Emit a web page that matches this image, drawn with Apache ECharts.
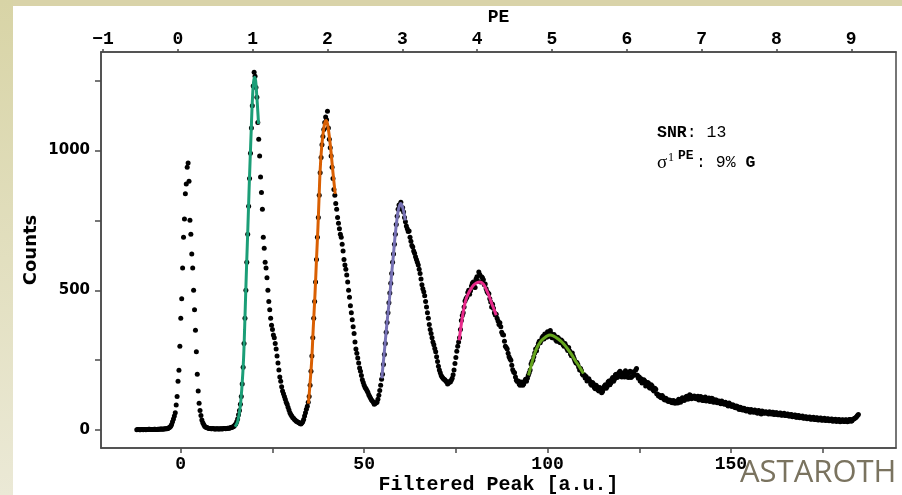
<!DOCTYPE html>
<html><head><meta charset="utf-8">
<script src="https://cdn.jsdelivr.net/npm/echarts@6/dist/echarts.min.js"></script>
<style>html,body{margin:0;padding:0;background:#fff}#c{width:902px;height:495px}</style>
</head><body><div id="c"></div>
<script>
// ---- data ----
// histogram counts on two interleaved grids: bins A at binStart + k*binWidth,
// bins B at binStart + binWidth/2 + k*binWidth
const binStart = -12;      // first bin centre [a.u.]
const binWidth = 0.5;      // bin spacing [a.u.]

const baselineLeftA = [1,2,1,2,2,1,2,3,2,2,3,2,3,4,3,4,5];
const peak0A = [6,10,20,40,62,120,214,400,580,755,880,955,750,630,500,357,200,96,52,26,14,9,7];
const baselineMidA = [6,5,5,4,5,4,5,5,6,6,7,8,10];
const peak1A = [14,22,40,70,120,225,400,600,800,990,1160,1280,1225,
  1100,980,850,690,600,545,460,400,360,330,290,240,190,155,130,110,92,72,56,45,38,32,28,24,25,38,62,85];
const peak2A = [120,210,330,460,610,760,920,1020,1075,1120,1140,1040,980,900,840,790,740,700,665,610,
  575,530,475,420,370,315,275,240,210,180,160,148,135,120,108,100,95,100,125,160];
const peak3A = [200,270,350,420,490,560,630,700,765,805,815,795,760,730,710,690,660,640,620,600,
  575,540,505,480,440,400,360,330,305,280,245,215,195,185,180,172,168,172,185,215,260,300];
const peak4A = [330,392,420,462,475,500,498,525,512,540,532,556,548,538,522,496,488,458,450,420,
  414,390,384,350,340,300,290,262,250,216,205,178,176,160,170,165,182,185];
const peak5A = [205,236,250,276,284,310,312,330,326,342,352,336,345,330,336,318,328,312,318,300,
  302,285,284,266,264,246,242,225,220,200,198];
const shoulderA = [192,178,176,160,166,148,155,140,146,138,158,150,172,162,182,175,198,188,206,196,
  204,190,206,188,210,192,202,214,196,190,184,170,176,160,168,150,158,140,146,128];
const tail1A = [125,116,118,108,110,102,106,98,104,100,97,108,104,113,110,121,114,124,115,122,
  112,121,109,117,106,118,108,115,104,112,101,108,102,97,104,94,100,90,97,88,
  91,82,86,77,82,73,78,69,75,67,74,66,72,63,70,62,68,61,66,60];
const tail2A = [66,58,64,57,62,55,61,54,60,52,58,50,56,49,54,46,52,45,50,43,
  48,42,47,40,46,38,44,37,43,36,42,35,41,34,40,33,39,33,38,32,37,31,36,32,38,33,40,44,52];

const baselineLeftB = [2,1,2,1,2,2,3,2,2,3,2,3,3,4,4,5,5];
const peak0B = [8,14,30,50,90,175,300,470,690,845,940,890,700,580,430,280,140,70,36,20,11,8,6];
const baselineMidB = [5,6,4,5,4,5,4,6,5,7,7,9,12];
const peak1B = [18,30,55,92,165,310,500,700,900,1080,1230,1265,1190,1040,905,790,650,580,500,430,
  375,340,310,265,215,175,140,120,100,82,62,50,42,35,30,26,22,30,50,75,100];
const peak2B = [160,265,400,530,690,840,975,1050,1100,1110,1080,1010,940,860,810,760,720,690,640,590,
  555,500,445,395,345,290,258,222,195,170,152,142,126,114,104,92,98,110,142,182];
const peak3B = [235,310,385,455,525,600,665,735,790,800,790,780,745,720,712,675,655,632,610,590,
  560,520,495,460,420,378,345,315,292,262,228,205,190,182,176,165,174,178,198,238,282,315];
const peak4B = [360,410,440,470,492,486,515,530,510,548,565,530,545,520,505,490,470,440,436,412,
  400,378,370,342,318,295,275,255,232,208,190,174,165,172,160,176,175,196];
const peak5B = [215,245,262,290,298,318,320,336,344,332,340,356,330,342,322,332,315,322,305,310,
  292,295,272,276,255,240,235,215,212,196,186];
const shoulderB = [176,184,165,170,152,160,143,152,134,148,162,156,176,168,188,182,200,192,210,190,
  200,212,194,205,188,208,196,220,185,176,168,180,158,170,152,162,144,150,130,122];
const tail1B = [118,124,110,114,104,108,100,106,96,104,110,100,116,106,119,110,126,112,120,114,
  118,108,120,106,116,104,112,102,114,100,108,98,104,94,100,92,96,86,92,84,
  88,80,84,74,80,72,76,68,74,64,70,64,68,60,68,58,66,60,64,58];
const tail2B = [60,64,56,62,55,60,53,58,52,57,50,55,48,53,46,51,44,49,42,47,
  41,46,39,44,38,43,36,42,35,40,34,40,33,39,32,38,31,37,30,36,31,37,30,38,32,39,42,48,56];

const fit1 = [[14.8,12],[15.5,30],[16.2,83],[16.7,160],[17.1,250],[17.4,360],[17.7,489],[18.0,610],[18.3,726],[18.6,850],[18.9,964],[19.2,1070],[19.4,1143],[19.6,1200],[19.8,1238],[20.1,1262],[20.4,1250],[20.7,1200],[21.0,1140],[21.2,1095]];
const fit2 = [[34.8,95],[35.2,160],[35.7,250],[36.1,360],[36.6,488],[37.0,610],[37.4,726],[37.7,830],[38.0,929],[38.4,1010],[38.9,1071],[39.3,1100],[39.6,1107],[40.0,1095],[40.5,1050],[41.0,990],[41.5,920],[42.1,845]];
const fit3 = [[54.8,185],[55.5,280],[56.2,381],[56.9,470],[57.5,560],[58.0,630],[58.4,690],[58.9,750],[59.3,786],[59.7,805],[60.0,810],[60.4,800],[60.8,780],[61.2,750]];
const fit4 = [[75.9,321],[76.5,380],[77.1,429],[77.7,465],[78.4,488],[79.1,505],[79.8,518],[80.7,527],[81.6,530],[82.5,522],[83.4,500],[84.1,478],[84.8,452],[85.4,432],[86.0,411]];
const fit5 = [[94.8,196],[95.5,230],[96.2,262],[96.8,285],[97.5,304],[98.2,318],[98.9,327],[99.8,336],[100.7,340],[101.4,338],[102.1,333],[103.0,325],[103.9,315],[104.8,302],[105.7,286],[106.6,269],[107.5,250],[108.7,226],[109.8,202]];
const fitColors = ['#1b9e77','#d95f02','#7570b3','#e7298a','#66a61e'];

const xTicks = [0,25,50,75,100,125,150,175];
const xLabels = [0,50,100,150];
const yTicks = [0,250,500,750,1000,1250];
const yLabels = [0,500,1000];
const peTicks = [-1,0,1,2,3,4,5,6,7,8,9];

// ---- build ----
const countsA = [].concat(baselineLeftA, peak0A, baselineMidA, peak1A, peak2A, peak3A, peak4A, peak5A, shoulderA, tail1A, tail2A);
const countsB = [].concat(baselineLeftB, peak0B, baselineMidB, peak1B, peak2B, peak3B, peak4B, peak5B, shoulderB, tail1B, tail2B);
const points = countsA.map((c, i) => [binStart + i * binWidth, c])
  .concat(countsB.map((c, i) => [binStart + binWidth / 2 + i * binWidth, c]));
const fits = [fit1, fit2, fit3, fit4, fit5];

const axisCol = '#4a4a4a';
const mono = 'Liberation Mono';
const chart = echarts.init(document.getElementById('c'), null, {renderer: 'canvas'});
chart.setOption({
  animation: false,
  backgroundColor: '#ffffff',
  grid: {left: 101, right: 6, top: 52, bottom: 47, show: true, borderColor: axisCol, borderWidth: 1.5,
         containLabel: false, outerBoundsMode: 'none'},
  xAxis: [
    {type: 'value', position: 'bottom', min: -21.75, max: 195,
     splitLine: {show: false},
     axisLine: {onZero: false, lineStyle: {color: axisCol, width: 1.5}},
     axisTick: {customValues: xTicks, length: 5, lineStyle: {color: axisCol, width: 1.5}},
     axisLabel: {customValues: xLabels, fontFamily: mono, fontWeight: 'bold', fontSize: 18, color: '#000', margin: 7},
     name: 'Filtered Peak [a.u.]', nameLocation: 'middle', nameGap: 27, nameMoveOverlap: false,
     nameTextStyle: {fontFamily: mono, fontWeight: 'bold', fontSize: 20, color: '#000'}},
    {type: 'value', position: 'top', min: -1.027, max: 9.598,
     splitLine: {show: false},
     axisLine: {onZero: false, lineStyle: {color: axisCol, width: 1.5}},
     axisTick: {customValues: peTicks, length: 3, lineStyle: {color: axisCol, width: 1.5}},
     axisLabel: {customValues: peTicks, fontFamily: mono, fontWeight: 'bold', fontSize: 18, color: '#000', margin: 4,
       formatter: v => (v < 0 ? '\u2212' + Math.abs(v) : String(v))},
     name: 'PE', nameLocation: 'middle', nameGap: 26, nameMoveOverlap: false,
     nameTextStyle: {fontFamily: mono, fontWeight: 'bold', fontSize: 18, color: '#000'}}
  ],
  yAxis: {type: 'value', min: -64, max: 1352,
    splitLine: {show: false},
    axisLine: {show: true, onZero: false, lineStyle: {color: axisCol, width: 1.5}},
    axisTick: {show: true, customValues: yTicks, length: 6, lineStyle: {color: axisCol, width: 1.5}},
    axisLabel: {customValues: yLabels, fontFamily: 'DejaVu Sans', fontWeight: 'bold', fontSize: 15, color: '#000', margin: 11,
      formatter: v => String(v)},
    name: 'Counts', nameLocation: 'middle', nameGap: 61, nameMoveOverlap: false,
    nameTextStyle: {fontFamily: 'DejaVu Sans', fontWeight: 'bold', fontSize: 18, color: '#000'}},
  series: [
    {type: 'scatter', xAxisIndex: 0, data: points, symbolSize: 5, itemStyle: {color: '#000', opacity: 1}, silent: true, z: 2}
  ].concat(fits.map((f, i) => ({
    type: 'line', xAxisIndex: 0, data: f, showSymbol: false, smooth: 0.4, silent: true, z: 3,
    lineStyle: {color: fitColors[i], width: 3}
  }))),
  graphic: [
    {type: 'rect', z: -10, shape: {x: 0, y: 0, width: 902, height: 6}, style: {fill: '#d9d3a9'}},
    {type: 'rect', z: -10, shape: {x: 0, y: 0, width: 13, height: 495},
     style: {fill: new echarts.graphic.LinearGradient(0, 0, 0, 1, [{offset: 0, color: '#d8d4a6'}, {offset: 1, color: '#ebe9d6'}])}},
    {type: 'text', z: 20, x: 657, y: 133,
     style: {text: '{b|SNR}{n|: 13}', verticalAlign: 'middle',
       rich: {b: {fontFamily: mono, fontWeight: 'bold', fontSize: 16.5, fill: '#000'},
              n: {fontFamily: mono, fontSize: 16.5, fill: '#000'}}}},
    {type: 'text', z: 20, x: 657, y: 163,
     style: {text: '\u03c3', fontFamily: 'Liberation Serif', fontSize: 19, fill: '#000', verticalAlign: 'middle'}},
    {type: 'text', z: 20, x: 668, y: 158,
     style: {text: '1', fontFamily: 'Liberation Serif', fontSize: 12, fill: '#000', verticalAlign: 'middle'}},
    {type: 'text', z: 20, x: 678, y: 156,
     style: {text: 'PE', fontFamily: mono, fontWeight: 'bold', fontSize: 13, fill: '#000', verticalAlign: 'middle'}},
    {type: 'text', z: 20, x: 696, y: 163,
     style: {text: '{n|: 9% }{b|G}', verticalAlign: 'middle',
       rich: {b: {fontFamily: mono, fontWeight: 'bold', fontSize: 16.5, fill: '#000'},
              n: {fontFamily: mono, fontSize: 16.5, fill: '#000'}}}},
    {type: 'text', z: 30, x: 740, y: 473,
     style: {text: 'ASTAROTH', fontFamily: 'Open Sans', fontSize: 31, fill: '#7a735f', verticalAlign: 'middle'}}
  ]
});
</script></body></html>
